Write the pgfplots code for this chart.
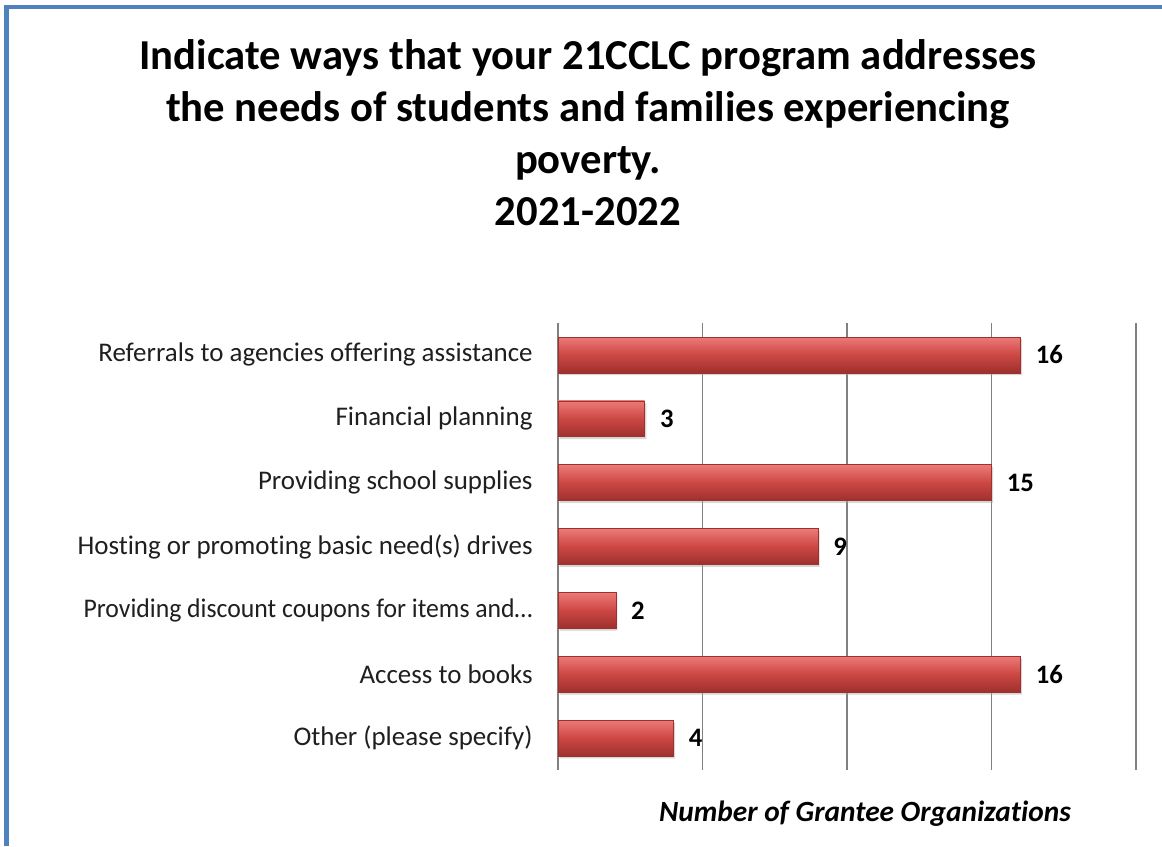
\documentclass[border=0pt]{standalone}
\usepackage{pgfplots}
\pgfplotsset{compat=1.18}
\usepackage{fontspec}
\setmainfont{Carlito}[Ligatures=NoCommon]
\definecolor{frameblue}{HTML}{4F81BD}
\definecolor{barred}{HTML}{CC4744}
\definecolor{barlight}{HTML}{EC7A77}
\definecolor{bardark}{HTML}{9E302D}
\definecolor{gridgray}{HTML}{808080}
\begin{document}
\begin{tikzpicture}[x=0.75pt,y=0.75pt]
% canvas 1162 x 846 px, y measured from bottom
\useasboundingbox (0,0) rectangle (1162,846);
\fill[white] (0,0) rectangle (1162,846);
\draw[frameblue,line width=3.6pt] (6.5,0) -- (6.5,839) -- (1162,839);

\node[align=center,font=\bfseries\fontsize{32}{39}\selectfont] at (588,713)
  {Indicate ways that your 21CCLC program addresses\\
   the needs of students and families experiencing\\
   poverty.\\
   2021-2022};

\begin{axis}[
    at={(418.5pt,57pt)}, anchor=south west,
    scale only axis,
    width=433.5pt, height=335.25pt,
    xbar, bar width=0.56, bar shift=0pt,
    xmin=0, xmax=20,
    ymin=-0.5, ymax=6.5,
    y dir=reverse,
    axis line style={draw=none},
    xtick={0,5,10,15,20},
    ytick={0,...,6},
    yticklabels={Referrals to agencies offering assistance,
                 Financial planning,
                 Providing school supplies,
                 Hosting or promoting basic need(s) drives,
                 {\scalebox{0.955}[1]{Providing discount coupons for items and…}},
                 Access to books,
                 Other (please specify)},
    yticklabel style={font=\fontsize{20.2}{22}\selectfont, text=black!88, xshift=-15.5pt},
    xticklabels={},
    major tick length=0pt,
    clip=false,
    /pgf/number format/assume math mode=true,
    every node near coord/.append style={font=\bfseries\fontsize{20}{22}\selectfont,
        anchor=west, xshift=8pt, black},
    barstyle/.style={draw=bardark, line width=0.4pt,
        top color=barlight, bottom color=bardark, middle color=barred,
        nodes near coords},
  ]
  \foreach \xx in {0,5,10,15,20} {
    \edef\temp{\noexpand\draw[gridgray, line width=1.1pt]
      (axis cs:\xx,-0.5) -- (axis cs:\xx,6.5);}
    \temp
  }
  % soft shadow under the bars
  \addplot[fill=black!35, draw=none, opacity=0.45,
    xshift=1.2pt, yshift=-1.8pt]
    coordinates {(16,0) (3,1) (15,2) (9,3) (2,4) (16,5) (4,6)};
  \addplot[barstyle] coordinates {(16,0)};
  \addplot[barstyle] coordinates {(3,1)};
  \addplot[barstyle] coordinates {(15,2)};
  \addplot[barstyle] coordinates {(9,3)};
  \addplot[barstyle] coordinates {(2,4)};
  \addplot[barstyle] coordinates {(16,5)};
  \addplot[barstyle] coordinates {(4,6)};
\end{axis}

\node[font=\bfseries\itshape\fontsize{22}{24}\selectfont] at (865,32)
  {Number of Grantee Organizations};
\end{tikzpicture}
\end{document}
